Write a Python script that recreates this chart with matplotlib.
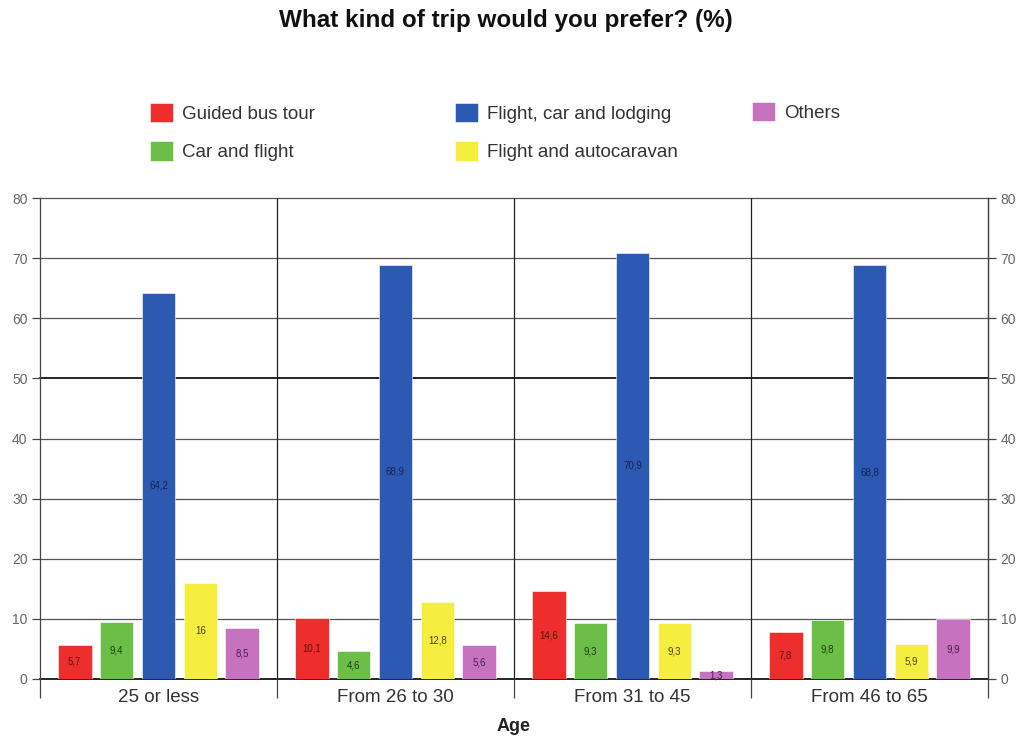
import numpy as np
import matplotlib.pyplot as plt

plt.rcParams['font.family'] = ['Liberation Sans', 'DejaVu Sans']

age_groups = ['25 or less', 'From 26 to 30', 'From 31 to 45', 'From 46 to 65']
series_names = ['Guided bus tour', 'Car and flight', 'Flight, car and lodging',
                'Flight and autocaravan', 'Others']
guided_bus = [5.7, 10.1, 14.6, 7.8]
car_flight = [9.4, 4.6, 9.3, 9.8]
flight_car_lodging = [64.2, 68.9, 70.9, 68.8]
flight_autocaravan = [16, 12.8, 9.3, 5.9]
others = [8.5, 5.6, 1.3, 9.9]
yticks = [0, 10, 20, 30, 40, 50, 60, 70, 80]

colors = ['#EE2D2D', '#6CBF46', '#2C5AB3', '#F6EE3E', '#C672BE']
label_colors = ['#5a1010', '#1f3a10', '#14254f', '#4a4510', '#4a1f48']

fig = plt.figure(figsize=(10.16, 7.39), dpi=100)
ax = fig.add_axes([40 / 1016, 60 / 739, 948 / 1016, 481 / 739])

x = np.arange(len(age_groups))
step = 0.177
width = 0.143
all_series = [guided_bus, car_flight, flight_car_lodging, flight_autocaravan, others]
bars = []
for i, (name, vals) in enumerate(zip(series_names, all_series)):
    b = ax.bar(x + (i - 2) * step, vals, width, color=colors[i], label=name,
               edgecolor='white', linewidth=0.4, zorder=3)
    bars.append(b)
    labels = [('%g' % v).replace('.', ',') for v in vals]
    for rect, txt in zip(b, labels):
        ax.text(rect.get_x() + rect.get_width() / 2, rect.get_height() / 2, txt,
                ha='center', va='center', fontsize=7, color=label_colors[i], zorder=4)

ax.set_xlim(-0.5, 3.5)
ax.set_ylim(0, 80)

# horizontal grid: 0 and 50 drawn darker
for yv in yticks:
    dark = yv in (0, 50)
    ax.axhline(yv, color='#000000' if dark else '#555555',
               linewidth=1.2 if dark else 0.9, zorder=1, clip_on=False)

# group separators extend below the plot as long ticks
ax.set_xticks([-0.5, 0.5, 1.5, 2.5, 3.5])
ax.set_xticklabels([])
ax.tick_params(axis='x', which='major', direction='out', length=13.5, width=0.9,
               color='#444444')
for xv in [0.5, 1.5, 2.5]:
    ax.axvline(xv, color='#222222', linewidth=0.9, zorder=1)
ax.set_xticks(x, minor=True)
ax.set_xticklabels(age_groups, minor=True, fontsize=13.5, color='#333333')
ax.tick_params(axis='x', which='minor', length=0, pad=7)

ax.set_yticks(yticks)
ax.tick_params(axis='y', direction='out', length=6, width=0.9, color='#444444',
               labelsize=10, labelcolor='#666666', pad=3)

for side in ['top', 'bottom']:
    ax.spines[side].set_visible(False)
for side in ['left', 'right']:
    ax.spines[side].set_color('#444444')
    ax.spines[side].set_linewidth(0.9)

ax2 = ax.twinx()
ax2.set_ylim(0, 80)
ax2.set_yticks(yticks)
ax2.tick_params(axis='y', direction='out', length=6, width=0.9, color='#444444',
                labelsize=10, labelcolor='#666666', pad=3)
for side in ['top', 'bottom', 'left']:
    ax2.spines[side].set_visible(False)
ax2.spines['right'].set_color('#444444')
ax2.spines['right'].set_linewidth(0.9)

ax.set_xlabel('Age', fontsize=13, fontweight='bold', color='#222222', labelpad=9)

fig.text(506 / 1016, 1 - 21 / 739, 'What kind of trip would you prefer? (%)',
         ha='center', va='center', fontsize=17.5, fontweight='bold', color='#111111')

# legend in three columns placed by hand
legend_cols = [([0, 1], 150, 132), ([2, 3], 455, 132), ([4], 752, 112)]
for idx, xpix, ypix in legend_cols:
    leg = fig.legend([bars[i] for i in idx], [series_names[i] for i in idx],
                     loc='center left', bbox_to_anchor=(xpix / 1016, 1 - ypix / 739),
                     frameon=False, fontsize=13.5, handlelength=1.2, handleheight=1.2,
                     handletextpad=0.5, labelspacing=1.0, borderpad=0,
                     borderaxespad=0)
    for t in leg.get_texts():
        t.set_color('#333333')

fig.savefig('out.png', dpi=100)
